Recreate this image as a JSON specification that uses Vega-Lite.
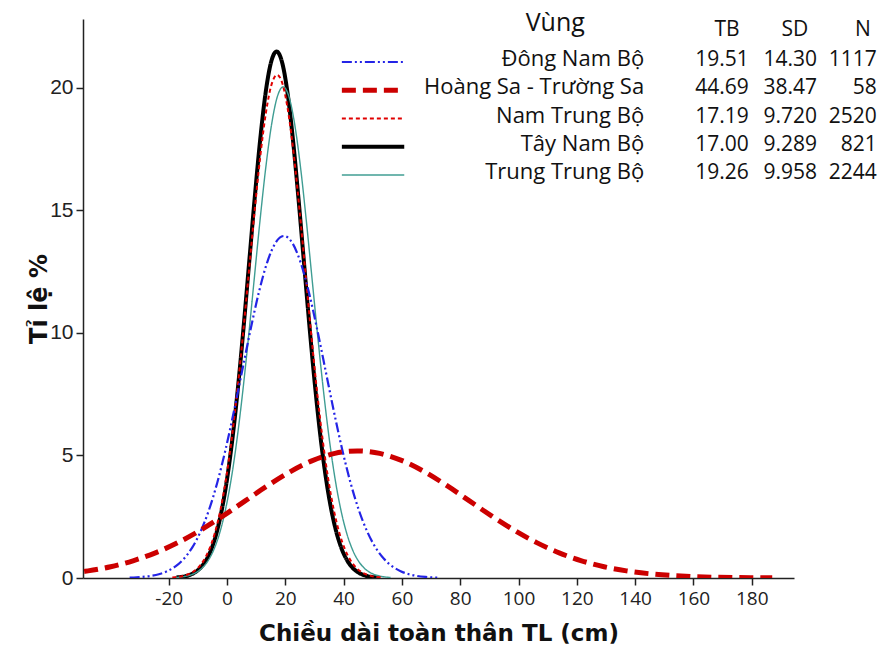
{
  "$schema": "https://vega.github.io/schema/vega-lite/v6.json",
  "autosize": {"type": "none"},
  "width": 711,
  "height": 559,
  "padding": {"left": 83, "top": 19, "right": 89, "bottom": 74},
  "background": "white",
  "config": {
    "view": {"stroke": null},
    "axis": {"grid": false, "domainColor": "#222", "domainWidth": 1.5, "tickColor": "#222", "tickWidth": 1.5, "tickSize": 7, "labelColor": "#222", "titleColor": "#111"}
  },
  "datasets": {
    "legend": [
      {"vung": "Đông Nam Bộ", "TB": "19.51", "SD": "14.30", "N": "1117"},
      {"vung": "Hoàng Sa - Trường Sa", "TB": "44.69", "SD": "38.47", "N": "58"},
      {"vung": "Nam Trung Bộ", "TB": "17.19", "SD": "9.720", "N": "2520"},
      {"vung": "Tây Nam Bộ", "TB": "17.00", "SD": "9.289", "N": "821"},
      {"vung": "Trung Trung Bộ", "TB": "19.26", "SD": "9.958", "N": "2244"}
    ],
    "curves": [
      {"vung":"Tây Nam Bộ","x":-17.37,"y":0.023},{"vung":"Tây Nam Bộ","x":-16.44,"y":0.033},{"vung":"Tây Nam Bộ","x":-14.58,"y":0.066},{"vung":"Tây Nam Bộ","x":-12.73,"y":0.128},{"vung":"Tây Nam Bộ","x":-10.87,"y":0.239},{"vung":"Tây Nam Bộ","x":-9.01,"y":0.426},{"vung":"Tây Nam Bộ","x":-7.15,"y":0.731},{"vung":"Tây Nam Bộ","x":-5.29,"y":1.205},{"vung":"Tây Nam Bộ","x":-3.44,"y":1.909},{"vung":"Tây Nam Bộ","x":-1.58,"y":2.906},{"vung":"Tây Nam Bộ","x":0.28,"y":4.25},{"vung":"Tây Nam Bộ","x":2.14,"y":5.971},{"vung":"Tây Nam Bộ","x":4.0,"y":8.059},{"vung":"Tây Nam Bộ","x":5.85,"y":10.453},{"vung":"Tây Nam Bộ","x":7.71,"y":13.025},{"vung":"Tây Nam Bộ","x":9.57,"y":15.593},{"vung":"Tây Nam Bộ","x":11.43,"y":17.937},{"vung":"Tây Nam Bộ","x":13.28,"y":19.823},{"vung":"Tây Nam Bộ","x":15.14,"y":21.049},{"vung":"Tây Nam Bộ","x":17.0,"y":21.474},{"vung":"Tây Nam Bộ","x":18.86,"y":21.049},{"vung":"Tây Nam Bộ","x":20.72,"y":19.823},{"vung":"Tây Nam Bộ","x":22.57,"y":17.937},{"vung":"Tây Nam Bộ","x":24.43,"y":15.593},{"vung":"Tây Nam Bộ","x":26.29,"y":13.025},{"vung":"Tây Nam Bộ","x":28.15,"y":10.453},{"vung":"Tây Nam Bộ","x":30.01,"y":8.059},{"vung":"Tây Nam Bộ","x":31.86,"y":5.971},{"vung":"Tây Nam Bộ","x":33.72,"y":4.25},{"vung":"Tây Nam Bộ","x":35.58,"y":2.906},{"vung":"Tây Nam Bộ","x":37.44,"y":1.909},{"vung":"Tây Nam Bộ","x":39.29,"y":1.205},{"vung":"Tây Nam Bộ","x":41.15,"y":0.731},{"vung":"Tây Nam Bộ","x":43.01,"y":0.426},{"vung":"Tây Nam Bộ","x":44.87,"y":0.239},{"vung":"Tây Nam Bộ","x":46.73,"y":0.128},{"vung":"Tây Nam Bộ","x":48.58,"y":0.066},{"vung":"Tây Nam Bộ","x":50.44,"y":0.033},{"vung":"Tây Nam Bộ","x":51.37,"y":0.023},
      {"vung":"Trung Trung Bộ","x":-17.59,"y":0.021},{"vung":"Trung Trung Bộ","x":-16.59,"y":0.031},{"vung":"Trung Trung Bộ","x":-14.6,"y":0.062},{"vung":"Trung Trung Bộ","x":-12.61,"y":0.12},{"vung":"Trung Trung Bộ","x":-10.61,"y":0.223},{"vung":"Trung Trung Bộ","x":-8.62,"y":0.397},{"vung":"Trung Trung Bộ","x":-6.63,"y":0.682},{"vung":"Trung Trung Bộ","x":-4.64,"y":1.124},{"vung":"Trung Trung Bộ","x":-2.65,"y":1.781},{"vung":"Trung Trung Bộ","x":-0.66,"y":2.711},{"vung":"Trung Trung Bộ","x":1.34,"y":3.964},{"vung":"Trung Trung Bộ","x":3.33,"y":5.569},{"vung":"Trung Trung Bộ","x":5.32,"y":7.518},{"vung":"Trung Trung Bộ","x":7.31,"y":9.75},{"vung":"Trung Trung Bộ","x":9.3,"y":12.149},{"vung":"Trung Trung Bộ","x":11.29,"y":14.546},{"vung":"Trung Trung Bộ","x":13.29,"y":16.731},{"vung":"Trung Trung Bộ","x":15.28,"y":18.491},{"vung":"Trung Trung Bộ","x":17.27,"y":19.634},{"vung":"Trung Trung Bộ","x":19.26,"y":20.031},{"vung":"Trung Trung Bộ","x":21.25,"y":19.634},{"vung":"Trung Trung Bộ","x":23.24,"y":18.491},{"vung":"Trung Trung Bộ","x":25.24,"y":16.731},{"vung":"Trung Trung Bộ","x":27.23,"y":14.546},{"vung":"Trung Trung Bộ","x":29.22,"y":12.149},{"vung":"Trung Trung Bộ","x":31.21,"y":9.75},{"vung":"Trung Trung Bộ","x":33.2,"y":7.518},{"vung":"Trung Trung Bộ","x":35.19,"y":5.569},{"vung":"Trung Trung Bộ","x":37.18,"y":3.964},{"vung":"Trung Trung Bộ","x":39.18,"y":2.711},{"vung":"Trung Trung Bộ","x":41.17,"y":1.781},{"vung":"Trung Trung Bộ","x":43.16,"y":1.124},{"vung":"Trung Trung Bộ","x":45.15,"y":0.682},{"vung":"Trung Trung Bộ","x":47.14,"y":0.397},{"vung":"Trung Trung Bộ","x":49.13,"y":0.223},{"vung":"Trung Trung Bộ","x":51.13,"y":0.12},{"vung":"Trung Trung Bộ","x":53.12,"y":0.062},{"vung":"Trung Trung Bộ","x":55.11,"y":0.031},{"vung":"Trung Trung Bộ","x":56.11,"y":0.021},
      {"vung":"Nam Trung Bộ","x":-18.77,"y":0.022},{"vung":"Nam Trung Bộ","x":-17.8,"y":0.032},{"vung":"Nam Trung Bộ","x":-15.86,"y":0.063},{"vung":"Nam Trung Bộ","x":-13.91,"y":0.123},{"vung":"Nam Trung Bộ","x":-11.97,"y":0.228},{"vung":"Nam Trung Bộ","x":-10.03,"y":0.407},{"vung":"Nam Trung Bộ","x":-8.08,"y":0.699},{"vung":"Nam Trung Bộ","x":-6.14,"y":1.152},{"vung":"Nam Trung Bộ","x":-4.19,"y":1.825},{"vung":"Nam Trung Bộ","x":-2.25,"y":2.777},{"vung":"Nam Trung Bộ","x":-0.31,"y":4.061},{"vung":"Nam Trung Bộ","x":1.64,"y":5.706},{"vung":"Nam Trung Bộ","x":3.58,"y":7.702},{"vung":"Nam Trung Bộ","x":5.53,"y":9.989},{"vung":"Nam Trung Bộ","x":7.47,"y":12.447},{"vung":"Nam Trung Bộ","x":9.41,"y":14.902},{"vung":"Nam Trung Bộ","x":11.36,"y":17.142},{"vung":"Nam Trung Bộ","x":13.3,"y":18.944},{"vung":"Nam Trung Bộ","x":15.25,"y":20.116},{"vung":"Nam Trung Bộ","x":17.19,"y":20.522},{"vung":"Nam Trung Bộ","x":19.13,"y":20.116},{"vung":"Nam Trung Bộ","x":21.08,"y":18.944},{"vung":"Nam Trung Bộ","x":23.02,"y":17.142},{"vung":"Nam Trung Bộ","x":24.97,"y":14.902},{"vung":"Nam Trung Bộ","x":26.91,"y":12.447},{"vung":"Nam Trung Bộ","x":28.85,"y":9.989},{"vung":"Nam Trung Bộ","x":30.8,"y":7.702},{"vung":"Nam Trung Bộ","x":32.74,"y":5.706},{"vung":"Nam Trung Bộ","x":34.69,"y":4.061},{"vung":"Nam Trung Bộ","x":36.63,"y":2.777},{"vung":"Nam Trung Bộ","x":38.57,"y":1.825},{"vung":"Nam Trung Bộ","x":40.52,"y":1.152},{"vung":"Nam Trung Bộ","x":42.46,"y":0.699},{"vung":"Nam Trung Bộ","x":44.41,"y":0.407},{"vung":"Nam Trung Bộ","x":46.35,"y":0.228},{"vung":"Nam Trung Bộ","x":48.29,"y":0.123},{"vung":"Nam Trung Bộ","x":50.24,"y":0.063},{"vung":"Nam Trung Bộ","x":52.18,"y":0.032},{"vung":"Nam Trung Bộ","x":53.15,"y":0.022},
      {"vung":"Đông Nam Bộ","x":-33.4,"y":0.015},{"vung":"Đông Nam Bộ","x":-31.97,"y":0.021},{"vung":"Đông Nam Bộ","x":-29.11,"y":0.043},{"vung":"Đông Nam Bộ","x":-26.25,"y":0.083},{"vung":"Đông Nam Bộ","x":-23.39,"y":0.155},{"vung":"Đông Nam Bộ","x":-20.53,"y":0.277},{"vung":"Đông Nam Bộ","x":-17.67,"y":0.475},{"vung":"Đông Nam Bộ","x":-14.81,"y":0.783},{"vung":"Đông Nam Bộ","x":-11.95,"y":1.24},{"vung":"Đông Nam Bộ","x":-9.09,"y":1.888},{"vung":"Đông Nam Bộ","x":-6.23,"y":2.76},{"vung":"Đông Nam Bộ","x":-3.37,"y":3.878},{"vung":"Đông Nam Bộ","x":-0.51,"y":5.235},{"vung":"Đông Nam Bộ","x":2.35,"y":6.79},{"vung":"Đông Nam Bộ","x":5.21,"y":8.461},{"vung":"Đông Nam Bộ","x":8.07,"y":10.129},{"vung":"Đông Nam Bộ","x":10.93,"y":11.651},{"vung":"Đông Nam Bộ","x":13.79,"y":12.877},{"vung":"Đông Nam Bộ","x":16.65,"y":13.673},{"vung":"Đông Nam Bộ","x":19.51,"y":13.949},{"vung":"Đông Nam Bộ","x":22.37,"y":13.673},{"vung":"Đông Nam Bộ","x":25.23,"y":12.877},{"vung":"Đông Nam Bộ","x":28.09,"y":11.651},{"vung":"Đông Nam Bộ","x":30.95,"y":10.129},{"vung":"Đông Nam Bộ","x":33.81,"y":8.461},{"vung":"Đông Nam Bộ","x":36.67,"y":6.79},{"vung":"Đông Nam Bộ","x":39.53,"y":5.235},{"vung":"Đông Nam Bộ","x":42.39,"y":3.878},{"vung":"Đông Nam Bộ","x":45.25,"y":2.76},{"vung":"Đông Nam Bộ","x":48.11,"y":1.888},{"vung":"Đông Nam Bộ","x":50.97,"y":1.24},{"vung":"Đông Nam Bộ","x":53.83,"y":0.783},{"vung":"Đông Nam Bộ","x":56.69,"y":0.475},{"vung":"Đông Nam Bộ","x":59.55,"y":0.277},{"vung":"Đông Nam Bộ","x":62.41,"y":0.155},{"vung":"Đông Nam Bộ","x":65.27,"y":0.083},{"vung":"Đông Nam Bộ","x":68.13,"y":0.043},{"vung":"Đông Nam Bộ","x":70.99,"y":0.021},{"vung":"Đông Nam Bộ","x":72.42,"y":0.015},
      {"vung":"Hoàng Sa - Trường Sa","x":-49.0,"y":0.268},{"vung":"Hoàng Sa - Trường Sa","x":-47.64,"y":0.291},{"vung":"Hoàng Sa - Trường Sa","x":-39.94,"y":0.461},{"vung":"Hoàng Sa - Trường Sa","x":-32.25,"y":0.702},{"vung":"Hoàng Sa - Trường Sa","x":-24.56,"y":1.026},{"vung":"Hoàng Sa - Trường Sa","x":-16.86,"y":1.442},{"vung":"Hoàng Sa - Trường Sa","x":-9.17,"y":1.946},{"vung":"Hoàng Sa - Trường Sa","x":-1.47,"y":2.524},{"vung":"Hoàng Sa - Trường Sa","x":6.22,"y":3.145},{"vung":"Hoàng Sa - Trường Sa","x":13.91,"y":3.765},{"vung":"Hoàng Sa - Trường Sa","x":21.61,"y":4.331},{"vung":"Hoàng Sa - Trường Sa","x":29.3,"y":4.786},{"vung":"Hoàng Sa - Trường Sa","x":37.0,"y":5.082},{"vung":"Hoàng Sa - Trường Sa","x":44.69,"y":5.185},{"vung":"Hoàng Sa - Trường Sa","x":52.38,"y":5.082},{"vung":"Hoàng Sa - Trường Sa","x":60.08,"y":4.786},{"vung":"Hoàng Sa - Trường Sa","x":67.77,"y":4.331},{"vung":"Hoàng Sa - Trường Sa","x":75.47,"y":3.765},{"vung":"Hoàng Sa - Trường Sa","x":83.16,"y":3.145},{"vung":"Hoàng Sa - Trường Sa","x":90.85,"y":2.524},{"vung":"Hoàng Sa - Trường Sa","x":98.55,"y":1.946},{"vung":"Hoàng Sa - Trường Sa","x":106.24,"y":1.442},{"vung":"Hoàng Sa - Trường Sa","x":113.94,"y":1.026},{"vung":"Hoàng Sa - Trường Sa","x":121.63,"y":0.702},{"vung":"Hoàng Sa - Trường Sa","x":129.32,"y":0.461},{"vung":"Hoàng Sa - Trường Sa","x":137.02,"y":0.291},{"vung":"Hoàng Sa - Trường Sa","x":144.71,"y":0.177},{"vung":"Hoàng Sa - Trường Sa","x":152.41,"y":0.103},{"vung":"Hoàng Sa - Trường Sa","x":160.1,"y":0.058},{"vung":"Hoàng Sa - Trường Sa","x":167.79,"y":0.031},{"vung":"Hoàng Sa - Trường Sa","x":175.49,"y":0.016},{"vung":"Hoàng Sa - Trường Sa","x":183.18,"y":0.008},{"vung":"Hoàng Sa - Trường Sa","x":187.03,"y":0.0055}
    ]
  },
  "resolve": {"scale": {"y": "independent"}},
  "layer": [
    {
      "layer": [
        {
          "data": {"name": "curves"},
          "mark": {"type": "line", "interpolate": "monotone", "clip": true},
          "encoding": {
            "x": {"field": "x", "type": "quantitative", "scale": {"domain": [-49.4, 194.5], "nice": false, "zero": false},
              "axis": {"values": [-20, 0, 20, 40, 60, 80, 100, 120, 140, 160, 180], "labelExpr": "replace(datum.label, '−', '-')", "title": "Chiều dài toàn thân TL (cm)", "labelFont": "Open Sans", "labelFontSize": 19, "labelPadding": 4, "titleFont": "DejaVu Sans", "titleFontSize": 23, "titleFontWeight": "bold", "titlePadding": 14}},
            "y": {"field": "y", "type": "quantitative", "scale": {"domain": [0, 22.8], "nice": false},
              "axis": {"values": [0, 5, 10, 15, 20], "title": "Tỉ lệ %", "labelFont": "Liberation Sans", "labelFontSize": 21, "labelPadding": 3, "titleFont": "DejaVu Sans", "titleFontSize": 24, "titleFontWeight": "bold", "titlePadding": -2}},
            "color": {"field": "vung", "type": "nominal", "legend": null,
              "scale": {"domain": ["Đông Nam Bộ", "Hoàng Sa - Trường Sa", "Nam Trung Bộ", "Tây Nam Bộ", "Trung Trung Bộ"], "range": ["#2424e6", "#cc0000", "#e00000", "#000000", "#3f9d93"]}},
            "strokeDash": {"field": "vung", "type": "nominal", "legend": null,
              "scale": {"domain": ["Đông Nam Bộ", "Hoàng Sa - Trường Sa", "Nam Trung Bộ", "Tây Nam Bộ", "Trung Trung Bộ"], "range": [[10, 3, 2, 3, 2, 3], [14, 7], [4, 3], [1, 0], [1, 0]]}},
            "strokeWidth": {"field": "vung", "type": "nominal", "legend": null,
              "scale": {"type": "ordinal", "domain": ["Đông Nam Bộ", "Hoàng Sa - Trường Sa", "Nam Trung Bộ", "Tây Nam Bộ", "Trung Trung Bộ"], "range": [2.2, 5, 2, 4, 1.4]}}
          }
        },
        {
          "data": {"values": [{}]},
          "mark": {"type": "text", "align": "center", "baseline": "alphabetic", "font": "Open Sans", "fontSize": 25, "color": "#111", "text": "Vùng"},
          "encoding": {"x": {"datum": 112.6}, "y": {"datum": 22.31}}
        },
        {
          "data": {"values": [{}]},
          "mark": {"type": "text", "align": "center", "baseline": "alphabetic", "font": "Open Sans", "fontSize": 21, "color": "#111", "text": "TB"},
          "encoding": {"x": {"datum": 171.5}, "y": {"datum": 22.09}}
        },
        {
          "data": {"values": [{}]},
          "mark": {"type": "text", "align": "center", "baseline": "alphabetic", "font": "Open Sans", "fontSize": 21, "color": "#111", "text": "SD"},
          "encoding": {"x": {"datum": 194.8}, "y": {"datum": 22.09}}
        },
        {
          "data": {"values": [{}]},
          "mark": {"type": "text", "align": "center", "baseline": "alphabetic", "font": "Open Sans", "fontSize": 21, "color": "#111", "text": "N"},
          "encoding": {"x": {"datum": 218.1}, "y": {"datum": 22.09}}
        }
      ]
    },
    {
      "data": {"name": "legend"},
      "encoding": {
        "y": {"field": "vung", "type": "nominal", "axis": null,
          "scale": {"type": "point", "domain": ["Đông Nam Bộ", "Hoàng Sa - Trường Sa", "Nam Trung Bộ", "Tây Nam Bộ", "Trung Trung Bộ"], "range": [43, 156], "padding": 0}}
      },
      "layer": [
        {
          "mark": {"type": "rule"},
          "encoding": {
            "x": {"datum": 39.4},
            "x2": {"datum": 60.8},
            "color": {"field": "vung", "type": "nominal", "legend": null},
            "strokeDash": {"field": "vung", "type": "nominal", "legend": null},
            "strokeWidth": {"field": "vung", "type": "nominal", "legend": null, "scale": {"type": "ordinal"}}
          }
        },
        {
          "mark": {"type": "text", "align": "right", "baseline": "alphabetic", "dy": 4, "font": "Open Sans", "fontSize": 22, "color": "#111"},
          "encoding": {"x": {"datum": 143.1}, "text": {"field": "vung"}}
        },
        {
          "mark": {"type": "text", "align": "right", "baseline": "alphabetic", "dy": 4, "font": "Open Sans", "fontSize": 21, "color": "#111"},
          "encoding": {"x": {"datum": 179.0}, "text": {"field": "TB"}}
        },
        {
          "mark": {"type": "text", "align": "right", "baseline": "alphabetic", "dy": 4, "font": "Open Sans", "fontSize": 21, "color": "#111"},
          "encoding": {"x": {"datum": 202.4}, "text": {"field": "SD"}}
        },
        {
          "mark": {"type": "text", "align": "right", "baseline": "alphabetic", "dy": 4, "font": "Open Sans", "fontSize": 21, "color": "#111"},
          "encoding": {"x": {"datum": 222.9}, "text": {"field": "N"}}
        }
      ]
    }
  ]
}
